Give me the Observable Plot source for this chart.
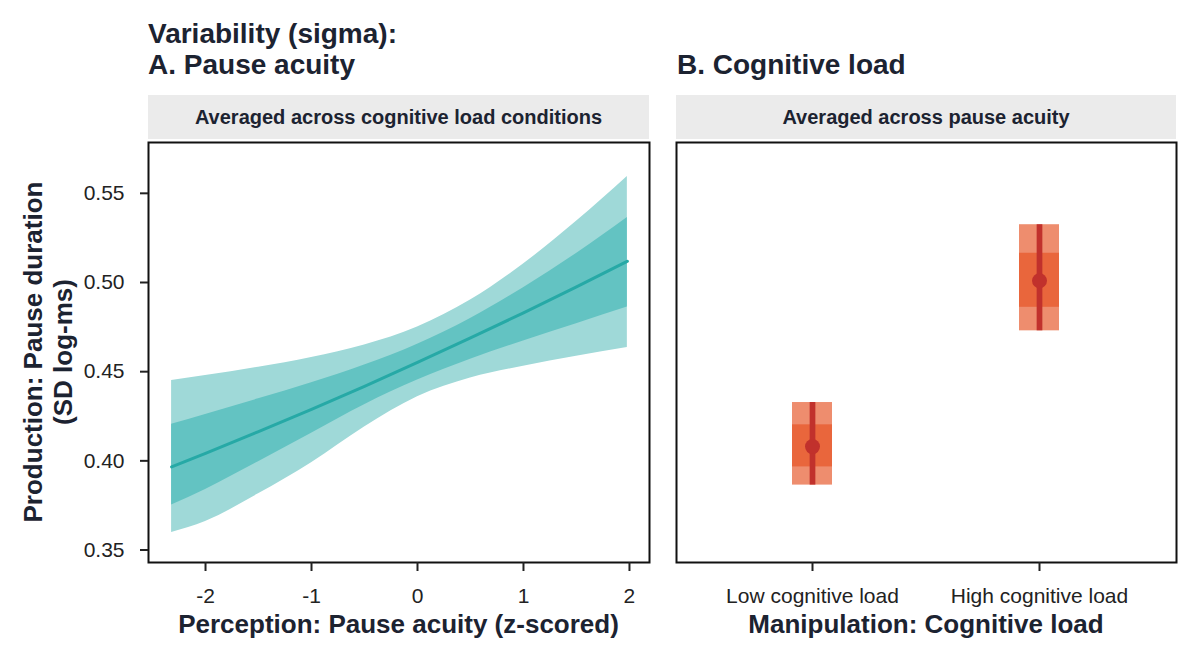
<!DOCTYPE html>
<html><head><meta charset="utf-8">
<script src="https://cdn.jsdelivr.net/npm/d3@7"></script>
<script src="https://cdn.jsdelivr.net/npm/@observablehq/plot@0.6"></script>
<style>
body{margin:0;background:#fff;}
#wrap{position:relative;width:1200px;height:658px;font-family:"Liberation Sans",Arial,sans-serif;color:#1c2331;overflow:hidden;background:#fff}
.abs{position:absolute;white-space:nowrap}
.title{font-weight:bold;font-size:28px;line-height:31px}
.strip{background:#ebebeb;font-weight:bold;font-size:20px;text-align:center;line-height:45px;height:44px;color:#1c2331}
.axt{font-weight:bold;font-size:26px;line-height:30px;text-align:center}
svg{overflow:visible}
</style></head><body><div id="wrap"></div>
<script>
// ---- Panel A data: pause acuity (z-scored) vs sigma ----
const acuity      = [-2.32, -2.0, -1.5, -1.0, -0.5, 0.0, 0.5, 1.0, 1.5, 1.98];
const sigmaMean   = [0.3966, 0.4042, 0.4164, 0.4289, 0.4418, 0.4552, 0.4689, 0.4830, 0.4975, 0.5119];
const outerLower  = [0.3598, 0.3660, 0.3815, 0.3990, 0.4190, 0.4360, 0.4465, 0.4531, 0.4587, 0.4636];
const outerUpper  = [0.4450, 0.4478, 0.4525, 0.4580, 0.4650, 0.4751, 0.4902, 0.5104, 0.5343, 0.5594];
const innerLower  = [0.3752, 0.3840, 0.3995, 0.4155, 0.4315, 0.4453, 0.4570, 0.4672, 0.4769, 0.4862];
const innerUpper  = [0.4205, 0.4260, 0.4348, 0.4438, 0.4537, 0.4654, 0.4798, 0.4971, 0.5163, 0.5365];
const acuityTicks = [-2, -1, 0, 1, 2];
const sigmaTicks  = [0.35, 0.40, 0.45, 0.50, 0.55];

// ---- Panel B data: cognitive load ----
const loadLevels     = ["Low cognitive load", "High cognitive load"];
const loadMean       = [0.4080, 0.5010];
const loadOuterLower = [0.3864, 0.4729];
const loadOuterUpper = [0.4327, 0.5324];
const loadInnerLower = [0.3966, 0.4861];
const loadInnerUpper = [0.4202, 0.5164];

const yDomain = [0.343, 0.5785];
const W = document.getElementById("wrap");
const baseStyle = {fontFamily:"Liberation Sans, Arial, sans-serif", fontSize:"21px", color:"#222", background:"transparent", overflow:"visible"};

function add(html, cls, css){
  const d = document.createElement("div");
  d.className = "abs " + cls;
  d.innerHTML = html;
  Object.assign(d.style, css);
  W.appendChild(d);
  return d;
}

const leftData = acuity.map((x,i)=>({x, m:sigmaMean[i], ol:outerLower[i], ou:outerUpper[i], il:innerLower[i], iu:innerUpper[i]}));
const rightData = loadLevels.map((level,i)=>({level, m:loadMean[i], ol:loadOuterLower[i], ou:loadOuterUpper[i], il:loadInnerLower[i], iu:loadInnerUpper[i]}));

const left = Plot.plot({
  width:660, height:528, marginTop:12, marginBottom:96, marginLeft:148, marginRight:11,
  style: baseStyle,
  x:{domain:[-2.538, 2.189]},
  y:{domain:yDomain},
  marks:[
    Plot.areaY(leftData,{x:"x", y1:"ol", y2:"ou", fill:"#9fd9d8", curve:"monotone-x"}),
    Plot.areaY(leftData,{x:"x", y1:"il", y2:"iu", fill:"#63c3c2", curve:"monotone-x"}),
    Plot.lineY(leftData,{x:"x", y:"m", stroke:"#26a9a6", strokeWidth:3, curve:"monotone-x"}),
    Plot.frame({stroke:"#111", strokeWidth:2}),
    Plot.axisX({ticks:acuityTicks, tickFormat:d=>String(d), tickSize:9, tickPadding:17, strokeWidth:2, label:null, fontSize:21}),
    Plot.axisY({ticks:sigmaTicks, tickFormat:d=>d.toFixed(2), tickSize:8, tickPadding:16, strokeWidth:2, label:null, fontSize:21})
  ]
});
Object.assign(left.style, {position:"absolute", left:"0px", top:"130px"});
W.appendChild(left);

const right = Plot.plot({
  width:540, height:528, marginTop:12, marginBottom:96, marginLeft:16, marginRight:24,
  style: baseStyle,
  x:{type:"band", domain:loadLevels, paddingInner:0.822, paddingOuter:0.508},
  y:{domain:yDomain, axis:null},
  marks:[
    Plot.barY(rightData,{x:"level", y1:"ol", y2:"ou", fill:"#ee8d6e"}),
    Plot.barY(rightData,{x:"level", y1:"il", y2:"iu", fill:"#e9663c"}),
    Plot.ruleX(rightData,{x:"level", y1:"ol", y2:"ou", stroke:"#c1312c", strokeWidth:5.7}),
    Plot.dot(rightData,{x:"level", y:"m", r:7.5, fill:"#c1312c"}),
    Plot.frame({stroke:"#111", strokeWidth:2}),
    Plot.axisX({tickSize:9, tickPadding:17, strokeWidth:2, label:null, fontSize:21})
  ]
});
Object.assign(right.style, {position:"absolute", left:"660px", top:"130px"});
W.appendChild(right);

// titles
add("Variability (sigma):<br>A. Pause acuity", "title", {left:"148px", top:"18px"});
add("B. Cognitive load", "title", {left:"677px", top:"49px"});
// strips
add("Averaged across cognitive load conditions", "strip", {left:"148px", top:"95px", width:"501px"});
add("Averaged across pause acuity", "strip", {left:"676px", top:"95px", width:"500px"});
// axis titles
add("Perception: Pause acuity (z-scored)", "axt", {left:"148px", top:"609px", width:"501px"});
add("Manipulation: Cognitive load", "axt", {left:"676px", top:"609px", width:"500px"});
add("Production: Pause duration<br>(SD log-ms)", "axt", {left:"-152px", top:"322px", width:"400px", height:"60px", transform:"rotate(-90deg)"});
</script>
</body></html>
